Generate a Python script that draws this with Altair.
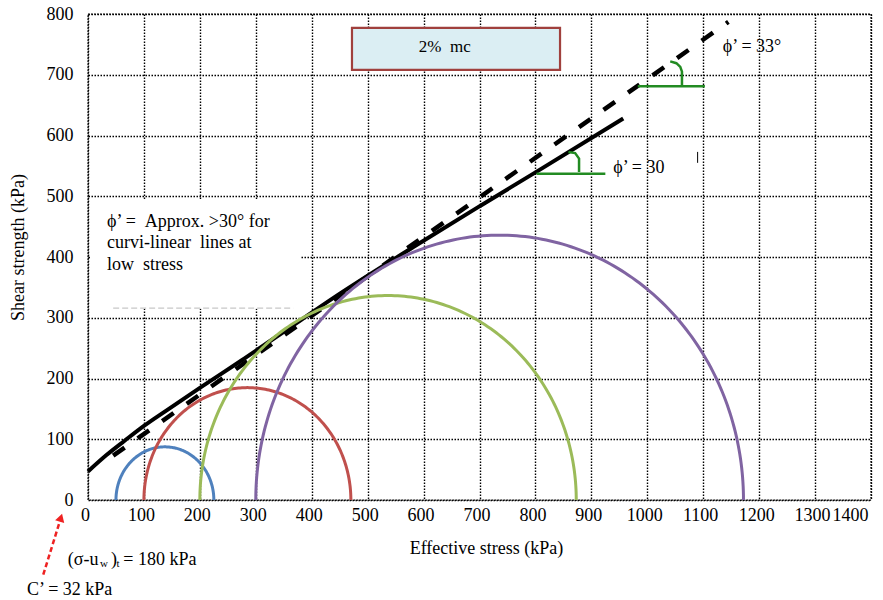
import altair as alt
import numpy as np
import pandas as pd

FONT = "Liberation Serif"

# Mohr circles at failure: minor / major principal effective stress (kPa)
circle_ids = ["c1", "c2", "c3", "c4"]
sigma3 = [50, 100, 200, 300]
sigma1 = [225, 470, 873, 1172]
circle_colors = ["#4F81BD", "#C0504D", "#9BBB59", "#8064A2"]

# curvi-linear failure envelope (solid)
env_x = [0, 33, 66, 100, 138, 204, 275, 350, 451, 581, 701, 803, 957]
env_y = [47, 74, 98, 122, 146, 187, 230, 277, 340, 416, 484, 541, 628]

# straight failure envelope, phi' = 33 deg (dashed)
lin_x = [45, 1145]
lin_y = [73, 787]

# slope-angle markers (green)
mark33_hx = [983, 1103]
mark33_hy = [681, 681]
mark33_ax = [1041, 1052, 1059, 1062, 1062]
mark33_ay = [722, 719, 713, 705, 681]
mark30_hx = [802, 925]
mark30_hy = [537, 537]
mark30_ax = [859, 871, 878, 878, 878]
mark30_ay = [573, 571, 562, 552, 540]

x_ticks = list(range(0, 1401, 100))
y_ticks = list(range(0, 801, 100))

# ---- data tables -------------------------------------------------------
rows = []
for cid, s3, s1 in zip(circle_ids, sigma3, sigma1):
    c, r = (s1 + s3) / 2, (s1 - s3) / 2
    for i, t in enumerate(np.linspace(np.pi, 0, 181)):
        rows.append({"circle": cid, "order": i, "x": c + r * np.cos(t), "y": r * np.sin(t)})
circles_df = pd.DataFrame(rows)

env_df = pd.DataFrame({"x": env_x, "y": env_y})
lin_df = pd.DataFrame({"x": lin_x, "y": lin_y})


def path_df(xs, ys, key):
    return pd.DataFrame({"x": xs, "y": ys, "order": range(len(xs)), "g": key})


marks_df = pd.concat([
    path_df(mark33_hx, mark33_hy, "h33"),
    path_df(mark33_ax, mark33_ay, "a33"),
    path_df(mark30_hx, mark30_hy, "h30"),
    path_df(mark30_ax, mark30_ay, "a30"),
])

xs = alt.Scale(domain=[0, 1400], nice=False, zero=False)
ys = alt.Scale(domain=[0, 800], nice=False, zero=False)

x_axis = alt.Axis(values=x_ticks, format="d", title="Effective stress (kPa)", labelOffset=-3,
                  labelPadding=6, labelFlush=False, labelOverlap=False,
                  labelAlign=alt.ExprRef(expr="datum.value >= 1400 ? 'right' : 'center'"),
                  titleX=398, titleY=48, titleBaseline="middle", titleAlign="center")
y_axis = alt.Axis(values=y_ticks, format="d", title="Shear strength (kPa)", labelPadding=15,
                  labelOverlap=False, labelFlush=False,
                  titleX=-70, titleY=233, titleBaseline="middle", titleAlign="center", titleAngle=-90)


def X(field="x"):
    return alt.X(f"{field}:Q", scale=xs, axis=x_axis)


def Y(field="y"):
    return alt.Y(f"{field}:Q", scale=ys, axis=y_axis)


# white panel behind the note text
panel = alt.Chart(pd.DataFrame({"x": [5], "x2": [380], "y": [315], "y2": [495]})).mark_rect(
    color="white").encode(x=X(), x2="x2:Q", y=Y(), y2="y2:Q")

panel_edge = alt.Chart(pd.DataFrame({"x": [45], "x2": [367], "y": [316]})).mark_rule(
    color="#c8c8c8", strokeWidth=1.2, strokeDash=[6, 3]).encode(x=X(), x2="x2:Q", y=Y())

# "2% mc" label box
mc_box = alt.Chart(pd.DataFrame({"x": [472], "x2": [844], "y": [708], "y2": [777]})).mark_rect(
    fill="#DBEEF3", stroke="#A0403D", strokeWidth=2.2).encode(x=X(), x2="x2:Q", y=Y(), y2="y2:Q")

envelope = alt.Chart(env_df).mark_line(color="black", strokeWidth=4, interpolate="monotone").encode(
    x=X(), y=Y())

linear = alt.Chart(lin_df).mark_line(color="black", strokeWidth=4.5, strokeDash=[14, 16]).encode(
    x=X(), y=Y())

circles = alt.Chart(circles_df).mark_line(strokeWidth=3).encode(
    x=X(), y=Y(), order="order:Q",
    color=alt.Color("circle:N", scale=alt.Scale(domain=circle_ids, range=circle_colors), legend=None),
    detail="circle:N")

angle_marks = alt.Chart(marks_df).mark_line(color="#228B22", strokeWidth=2.5).encode(
    x=X(), y=Y(), order="order:Q", detail="g:N")

tick_mark = alt.Chart(pd.DataFrame({"x": [1090], "y": [555], "y2": [573]})).mark_rule(
    color="black", strokeWidth=1).encode(x=X(), y=Y(), y2="y2:Q")

# annotation texts
note_df = pd.DataFrame({
    "x": [1135, 939, 34, 34, 34],
    "y": [746, 546, 458, 423, 387],
    "t": ["ϕ’ = 33°", "ϕ’ = 30",
          "ϕ’ =\u00a0 Approx. >30° for", "curvi-linear\u00a0 lines at", "low\u00a0 stress"],
})
notes = alt.Chart(note_df).mark_text(font=FONT, fontSize=18, baseline="middle", align="left",
                                     color="black").encode(x=X(), y=Y(), text="t:N")

mc_text = alt.Chart(pd.DataFrame({"x": [638], "y": [746], "t": ["2%\u00a0 mc"]})).mark_text(
    font=FONT, fontSize=17, baseline="middle", align="center", color="black").encode(
    x=X(), y=Y(), text="t:N")

# texts below the axis
below_df = pd.DataFrame({
    "x": [-36, 41, 63, -109],
    "y": [-107, -107, -107, -156],
    "t": ["(σ-u", ")", "= 180 kPa", "C’ = 32 kPa"],
})
below = alt.Chart(below_df).mark_text(font=FONT, fontSize=18, align="left", baseline="alphabetic",
                                      color="black").encode(x=X(), y=Y(), text="t:N")
sub_df = pd.DataFrame({"x": [21.5, 51], "y": [-111, -111], "t": ["w", "t"]})
subs = alt.Chart(sub_df).mark_text(font=FONT, fontSize=11, align="left", baseline="alphabetic",
                                   color="black").encode(x=X(), y=Y(), text="t:N")

arrow_df = pd.DataFrame({"x": [-80, -50], "y": [-123, -34]})
arrow_line = alt.Chart(arrow_df).mark_line(color="#EE2222", strokeWidth=2.5, strokeDash=[5, 3]).encode(
    x=X(), y=Y())
arrow_head = alt.Chart(pd.DataFrame({"x": [-48.5], "y": [-29]})).mark_point(
    shape="triangle-up", angle=17, size=90, filled=True, color="#EE2222", opacity=1).encode(x=X(), y=Y())

chart = alt.layer(
    panel, panel_edge, mc_box, envelope, linear, circles, angle_marks, tick_mark,
    notes, mc_text, below, subs, arrow_line, arrow_head,
).properties(
    width=783, height=486,
    background="white",
    autosize=alt.AutoSizeParams(type="none"),
    padding={"left": 88, "top": 14, "right": 12, "bottom": 100},
).configure_view(
    stroke="black", strokeDash=[1.5, 1.5], strokeWidth=1.4
).configure_axis(
    grid=True, gridColor="black", gridOpacity=1, gridDash=[1.5, 1.5], gridWidth=1.4,
    domain=False, ticks=False,
    labelFont=FONT, labelFontSize=18, labelColor="black",
    titleFont=FONT, titleFontSize=18, titleFontWeight="normal", titleColor="black",
)

chart.save("out.html", embed_options={"renderer": "svg", "actions": False})
